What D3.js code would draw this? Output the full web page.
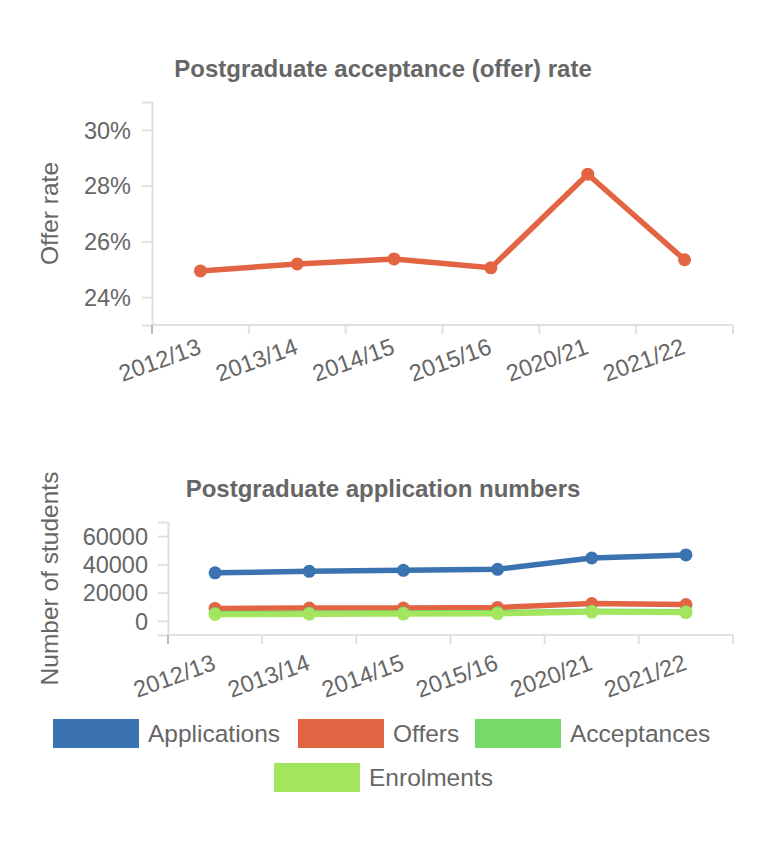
<!DOCTYPE html>
<html>
<head>
<meta charset="utf-8">
<script src="https://cdn.jsdelivr.net/npm/d3@7"></script>
<style>
  body { margin: 0; background: #fff; }
  text { font-family: "Liberation Sans", Arial, sans-serif; fill: #666; }
</style>
</head>
<body>
<script>
// Data.
const years = ['2012/13', '2013/14', '2014/15', '2015/16', '2020/21', '2021/22'];
const offerRate = [24.94, 25.19, 25.37, 25.05, 28.41, 25.34];
const rateTicks = [24, 26, 28, 30];

const applications = [34000, 35100, 35800, 36500, 44500, 46700];
const offers = [8800, 9100, 9100, 9500, 12300, 11600];
const acceptances = [5200, 5400, 5500, 5800, 6800, 6400];
const enrolments = [4500, 4700, 4800, 5100, 6200, 5900];
const numberTicks = [0, 20000, 40000, 60000];

const seriesNames = ['Applications', 'Offers', 'Acceptances', 'Enrolments'];
const seriesColors = ['#3a73b0', '#e36443', '#76d96a', '#a3e65e'];

const width = 758, height = 846;

const svg = d3.select('body')
  .append('svg')
  .attr('width', width)
  .attr('height', height);

// Draws one panel: title, axes, lines and dots.
function panel(opts)
{
  const x = d3.scaleBand()
    .domain(years)
    .range([opts.left, opts.right]);
  const y = d3.scaleLinear()
    .domain(opts.domain)
    .range([opts.bottom, opts.top]);

  const g = svg.append('g');

  // Title.
  g.append('text')
    .attr('x', opts.titleX)
    .attr('y', opts.titleY)
    .attr('text-anchor', 'middle')
    .style('font-size', '24px')
    .style('font-weight', 'bold')
    .text(opts.title);

  // Y axis label.
  g.append('text')
    .attr('transform', 'translate(' + opts.labelX + ',' + ((opts.top + opts.bottom) / 2) + ') rotate(-90)')
    .attr('text-anchor', 'middle')
    .style('font-size', '24.5px')
    .text(opts.yLabel);

  // Y axis.
  const yAxis = d3.axisLeft(y)
    .tickValues(opts.ticks)
    .tickSize(10)
    .tickPadding(opts.tickPad)
    .tickFormat(opts.format);
  const ya = g.append('g')
    .attr('transform', 'translate(' + opts.left + ',0)')
    .call(yAxis);
  ya.select('.domain').attr('stroke', '#e0e0e0').attr('stroke-width', 2);
  ya.selectAll('.tick line').attr('stroke', '#e0e0e0').attr('stroke-width', 2);
  ya.selectAll('.tick text')
    .style('font-size', '23.5px')
    .attr('dy', '0.35em')
    .attr('fill', '#666');

  // X axis: baseline plus ticks at band edges.
  g.append('line')
    .attr('x1', opts.left).attr('x2', opts.right)
    .attr('y1', opts.bottom).attr('y2', opts.bottom)
    .attr('stroke', '#e0e0e0')
    .attr('stroke-width', 2);
  const edges = years.map((d) => x(d)).concat([opts.right]);
  g.selectAll('.xtick')
    .data(edges)
    .enter()
    .append('line')
    .attr('x1', (d) => d).attr('x2', (d) => d)
    .attr('y1', opts.bottom).attr('y2', opts.bottom + 9)
    .attr('stroke', (d, i) => i === 0 ? '#bbb' : '#e0e0e0')
    .attr('stroke-width', 2);
  g.selectAll('.xlabel')
    .data(years)
    .enter()
    .append('text')
    .attr('transform', (d) => 'translate(' + (x(d) + x.bandwidth() / 2 + 2) + ',' + (opts.bottom + opts.labelDy) + ') rotate(-20)')
    .attr('text-anchor', 'end')
    .style('font-size', '23.5px')
    .text((d) => d);

  // Lines and dots.
  const line = d3.line()
    .x((d, i) => x(years[i]) + x.bandwidth() / 2)
    .y((d) => y(d));
  opts.series.forEach((s) =>
  {
    g.append('path')
      .datum(s.values)
      .attr('fill', 'none')
      .attr('stroke', s.color)
      .attr('stroke-width', 5.5)
      .attr('stroke-linejoin', 'round')
      .attr('d', line);
    g.selectAll(null)
      .data(s.values)
      .enter()
      .append('circle')
      .attr('cx', (d, i) => x(years[i]) + x.bandwidth() / 2)
      .attr('cy', (d) => y(d))
      .attr('r', 6.5)
      .attr('fill', s.color);
  });
}

panel({
  title: 'Postgraduate acceptance (offer) rate',
  titleX: 383, titleY: 77,
  yLabel: 'Offer rate', labelX: 58,
  left: 152, right: 733, top: 102, bottom: 325,
  domain: [23, 31],
  ticks: rateTicks,
  tickPad: 11,
  format: (d) => d + '%',
  labelDy: 28,
  series: [{ values: offerRate, color: seriesColors[1] }]
});

panel({
  title: 'Postgraduate application numbers',
  titleX: 383, titleY: 497,
  yLabel: 'Number of students', labelX: 58,
  left: 168, right: 733, top: 522, bottom: 635,
  domain: [-10000, 70000],
  ticks: numberTicks,
  tickPad: 10,
  format: (d) => d,
  labelDy: 34,
  series: [
    { values: applications, color: seriesColors[0] },
    { values: offers, color: seriesColors[1] },
    { values: acceptances, color: seriesColors[2] },
    { values: enrolments, color: seriesColors[3] }
  ]
});

// Legend.
const legendPos = [[53, 719], [298, 719], [475, 719], [274, 763]];
const legend = svg.append('g');
seriesNames.forEach((name, i) =>
{
  const p = legendPos[i];
  legend.append('rect')
    .attr('x', p[0]).attr('y', p[1])
    .attr('width', 86).attr('height', 29)
    .attr('fill', seriesColors[i]);
  legend.append('text')
    .attr('x', p[0] + 95)
    .attr('y', p[1] + 23)
    .style('font-size', '24.5px')
    .text(name);
});
</script>
</body>
</html>
